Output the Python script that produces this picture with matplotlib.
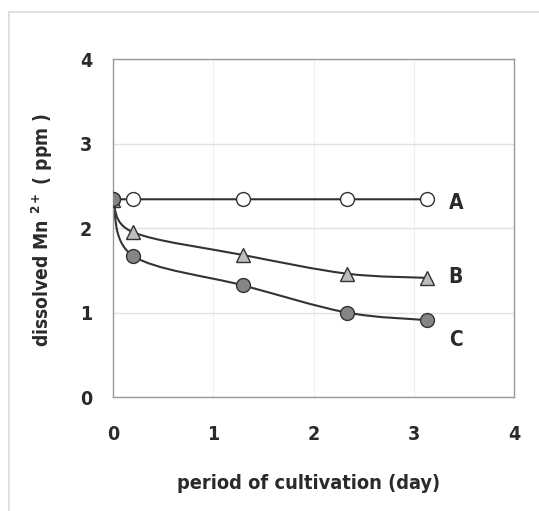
import matplotlib
matplotlib.use("Agg")
import matplotlib.pyplot as plt
from matplotlib.path import Path
from matplotlib.patches import PathPatch, Rectangle
import numpy as np

# ---- data ----
days = [0.0, 0.2, 1.3, 2.33, 3.13]
series_A = [2.34, 2.34, 2.34, 2.34, 2.34]
series_B = [2.33, 1.95, 1.68, 1.46, 1.41]
series_C = [2.34, 1.67, 1.32, 1.00, 0.91]
series_names = ["A", "B", "C"]
x_ticks = [0, 1, 2, 3, 4]
y_ticks = [0, 1, 2, 3, 4]

plt.rcParams['font.family'] = ["DejaVu Sans"]
plt.rcParams['font.stretch'] = 'condensed'
plt.rcParams['mathtext.fontset'] = 'custom'
plt.rcParams['mathtext.rm'] = 'DejaVu Sans:stretch=condensed'
plt.rcParams['mathtext.bf'] = 'DejaVu Sans:bold:stretch=condensed'

TXT = "#2a2a2a"
LINE = "#333333"

fig = plt.figure(figsize=(5.39, 5.11), dpi=100)
fig.patch.set_facecolor("white")
fig.patches.append(Rectangle((9/539, -0.1), 1.2, 1.1 - 12/511,
                             transform=fig.transFigure, fill=False,
                             edgecolor="#dcdcdc", linewidth=1.2))

ax = fig.add_axes([113/539, 1-397/511, (514-113)/539, (397-59)/511])
ax.set_xlim(0, 4)
ax.set_ylim(0, 4)
ax.set_xticks(x_ticks)
ax.set_yticks(y_ticks)
ax.tick_params(length=0, labelsize=14, colors=TXT)
ax.tick_params(axis='y', pad=15)
ax.tick_params(axis='x', pad=20)
for lab in ax.get_xticklabels() + ax.get_yticklabels():
    lab.set_fontweight('bold')
    lab.set_fontstretch('condensed')
for s in ax.spines.values():
    s.set_color("#9a9a9a")
    s.set_linewidth(1.0)
ax.grid(axis='y', color="#e2e2e2", linewidth=1.0)
ax.grid(axis='x', color="#f0f0f0", linewidth=0.8)
ax.set_axisbelow(True)


def smooth_path(xs, ys):
    pts = np.column_stack([xs, ys])
    n = len(pts)
    verts = [pts[0]]
    codes = [Path.MOVETO]
    for i in range(n - 1):
        p0 = pts[i - 1] if i > 0 else pts[i]
        p1 = pts[i]
        p2 = pts[i + 1]
        p3 = pts[i + 2] if i + 2 < n else pts[i + 1]
        c1 = p1 + (p2 - p0) / 6.0
        c2 = p2 - (p3 - p1) / 6.0
        verts += [c1, c2, p2]
        codes += [Path.CURVE4] * 3
    return Path(verts, codes)


for ys in (series_A, series_B, series_C):
    ax.add_patch(PathPatch(smooth_path(days, ys), fill=False,
                           edgecolor=LINE, linewidth=1.5, zorder=2))

ax.plot(days, series_A, linestyle='none', marker='o', markersize=10,
        markerfacecolor='white', markeredgecolor=LINE, markeredgewidth=1.0, zorder=3)
ax.plot(days, series_B, linestyle='none', marker='^', markersize=10,
        markerfacecolor='#bdbdbd', markeredgecolor=LINE, markeredgewidth=1.0, zorder=4)
ax.plot(days, series_C, linestyle='none', marker='o', markersize=10,
        markerfacecolor='#858585', markeredgecolor=LINE, markeredgewidth=1.0, zorder=5)

label_y = [2.30, 1.42, 0.67]
for name, yy in zip(series_names, label_y):
    ax.text(3.42, yy, name, fontsize=15, fontweight='bold', fontstretch='condensed',
            color=TXT, ha='center', va='center')

fig.text(309/539, 1-483/511, "period of cultivation (day)", fontsize=14.3,
         fontweight='bold', fontstretch='condensed', color=TXT, ha='center', va='center')
fig.text(42/539, 1-230/511, r"dissolved Mn $^{\mathbf{2+}}$ ( ppm )", fontsize=13.8,
         fontweight='bold', fontstretch='condensed', color=TXT, ha='center', va='center',
         rotation=90)

fig.savefig("out.png", dpi=100, facecolor="white")
